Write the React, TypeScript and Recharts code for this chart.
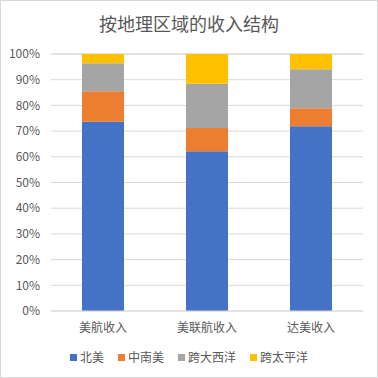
import React from "react";
import { BarChart, Bar, XAxis, YAxis, CartesianGrid } from "recharts";

const categories = ["美航收入", "美联航收入", "达美收入"];
const northAmerica = [73.6, 62.2, 71.9];
const latinAmerica = [11.9, 9.0, 7.0];
const atlantic = [10.9, 17.2, 15.2];
const pacific = [3.6, 11.6, 5.9];
const yTicks = [0, 10, 20, 30, 40, 50, 60, 70, 80, 90, 100];

const series = [
  { key: "北美", values: northAmerica, color: "#4472C4" },
  { key: "中南美", values: latinAmerica, color: "#ED7D31" },
  { key: "跨大西洋", values: atlantic, color: "#A5A5A5" },
  { key: "跨太平洋", values: pacific, color: "#FFC000" },
];

const data = categories.map((name, i) => {
  const row: Record<string, string | number> = { name };
  series.forEach((s) => (row[s.key] = s.values[i]));
  return row;
});

const FONT = '"Noto Sans CJK SC", "Noto Sans", sans-serif';

export default function App() {
  return (
    <div
      style={{
        position: "absolute",
        left: 0,
        top: 0,
        width: 378,
        height: 378,
        background: "#fff",
        fontFamily: FONT,
      }}
    >
      <div
        style={{
          position: "absolute",
          left: 0,
          top: 0,
          width: 378,
          height: 378,
          boxSizing: "border-box",
          border: "1px solid #d9d9d9",
          pointerEvents: "none",
        }}
      />
      <div
        style={{
          position: "absolute",
          top: 10,
          left: 0,
          width: 378,
          textAlign: "center",
          fontSize: 18,
          color: "#595959",
          lineHeight: "26px",
        }}
      >
        按地理区域的收入结构
      </div>
      <BarChart
        width={378}
        height={378}
        data={data}
        margin={{ top: 54, right: 15, bottom: 37, left: 0 }}
        barCategoryGap={31}
      >
        <CartesianGrid vertical={false} stroke="#d9d9d9" />
        <XAxis
          dataKey="name"
          axisLine={{ stroke: "#d9d9d9" }}
          tickLine={false}
          tick={{ fill: "#595959", fontSize: 12, fontFamily: FONT }}
          tickMargin={6}
          height={30}
        />
        <YAxis
          domain={[0, 100]}
          ticks={yTicks}
          interval={0}
          axisLine={false}
          tickLine={false}
          width={51}
          tickMargin={5}
          tickFormatter={(v: number) => `${v}%`}
          tick={{ fill: "#595959", fontSize: 12, fontFamily: FONT }}
        />
        {series.map((s) => (
          <Bar
            key={s.key}
            dataKey={s.key}
            stackId="a"
            fill={s.color}
            isAnimationActive={false}
          />
        ))}
      </BarChart>
      <div
        style={{
          position: "absolute",
          top: 348,
          left: 0,
          width: 378,
          display: "flex",
          justifyContent: "center",
          gap: 14,
          fontSize: 12,
          color: "#595959",
          lineHeight: "18px",
        }}
      >
        {series.map((s) => (
          <div key={s.key} style={{ display: "flex", alignItems: "center" }}>
            <span
              style={{
                display: "inline-block",
                width: 7,
                height: 7,
                background: s.color,
                marginRight: 3,
              }}
            />
            {s.key}
          </div>
        ))}
      </div>
    </div>
  );
}
